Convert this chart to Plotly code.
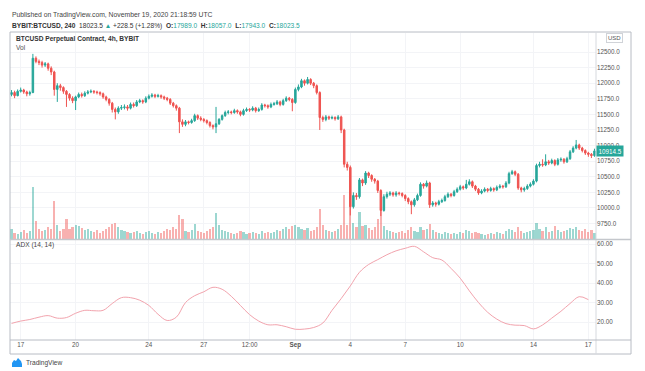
import plotly.graph_objects as go
import pandas as pd

W, H = 645, 371

# ---------------- data (4h candles, BYBIT BTCUSD) ----------------
start = "2020-08-16 12:00"
open_first = 11820
close = [
    11850, 11800, 11870, 11890, 11860, 11830, 11850, 12400, 12350, 12330,
    12290, 12310, 12240, 12180, 11900, 11960, 11930, 11870, 11820, 11760,
    11720, 11780, 11820, 11800, 11840, 11860, 11870, 11860, 11850, 11830,
    11780, 11740, 11680, 11580, 11540, 11600, 11610, 11620, 11600, 11660,
    11640, 11700, 11720, 11700, 11760, 11790, 11810, 11790, 11800, 11780,
    11760, 11740, 11680, 11640, 11600, 11380, 11340, 11380, 11370, 11400,
    11480, 11440, 11420, 11400, 11370, 11320, 11300, 11350, 11420, 11480,
    11530, 11540, 11530, 11560, 11540, 11500, 11560, 11580, 11570, 11600,
    11560, 11580, 11650, 11640, 11620, 11660, 11670, 11700, 11660, 11720,
    11760, 11740, 11690, 11900, 11940, 12040, 12000, 12060, 12000, 11960,
    11850, 11450, 11420, 11460, 11440, 11450, 11430, 11460, 11250, 10700,
    10650, 10020, 10200, 10180, 10450, 10400, 10560, 10520, 10460, 10430,
    10280, 9960, 10180, 10220, 10240, 10210, 10240, 10230, 10200, 10150,
    10100, 10050, 10130, 10200, 10380, 10350, 10400, 10050, 10080, 10060,
    10100, 10120, 10180, 10220, 10200, 10260, 10300, 10340, 10320, 10380,
    10420, 10350, 10300, 10240, 10270, 10300, 10280, 10310, 10290, 10330,
    10350, 10340, 10400, 10550, 10580, 10540, 10320, 10290, 10310, 10350,
    10380, 10430, 10680, 10700, 10690, 10740, 10720, 10760, 10700, 10770,
    10780, 10740, 10790, 10900, 10960, 11010, 10960, 10920, 10880, 10860,
    10840, 10914.5,
]
high = [
    11890, 11880, 11900, 11930, 11910, 11880, 11880, 12470, 12430, 12380,
    12360, 12340, 12330, 12270, 12200, 12000, 11990, 11950, 11890, 11840,
    11790, 11800, 11850, 11850, 11870, 11890, 11900, 11890, 11880, 11870,
    11850, 11800, 11760, 11700, 11610, 11630, 11650, 11660, 11650, 11690,
    11690, 11730, 11750, 11740, 11790, 11820, 11840, 11830, 11830, 11820,
    11800, 11780, 11760, 11700, 11660, 11620, 11420, 11410, 11400, 11430,
    11510, 11500, 11470, 11440, 11420, 11390, 11340, 11620, 11440, 11500,
    11560, 11570, 11560, 11590, 11580, 11560, 11590, 11610, 11600, 11630,
    11620, 11610, 11680, 11670, 11660, 11690, 11700, 11730, 11720, 11750,
    11790, 11780, 11760, 11930, 11980, 12070, 12060, 12100, 12080, 12020,
    11980, 11870, 11480, 11490, 11480, 11480, 11470, 11490, 11480, 11270,
    10740, 10680, 10250, 10240, 10480, 10470, 10590, 10580, 10540, 10480,
    10450, 10300, 10220, 10260, 10270, 10260, 10270, 10260, 10250, 10220,
    10170, 10120, 10160, 10230, 10410, 10400, 10440, 10420, 10110, 10100,
    10130, 10150, 10210, 10250, 10240, 10290, 10330, 10370, 10360, 10450,
    10460, 10440, 10370, 10320, 10300, 10330, 10320, 10340, 10330, 10360,
    10380, 10370, 10430, 10580, 10610, 10600, 10560, 10340, 10340, 10380,
    10410, 10460, 10710, 10740, 10780, 10860, 10770, 10790, 10780, 10800,
    10810, 10800, 10820, 10930, 10990, 11090, 11030, 10980, 10940, 10900,
    10880, 10950,
]
low = [
    11790, 11760, 11790, 11850, 11830, 11790, 11800, 11840, 12320, 12290,
    12250, 12260, 12200, 12130, 11800, 11700, 11880, 11830, 11620, 11720,
    11680, 11570, 11760, 11770, 11780, 11820, 11840, 11830, 11820, 11800,
    11750, 11710, 11640, 11530, 11420, 11510, 11570, 11580, 11560, 11580,
    11610, 11620, 11680, 11670, 11680, 11740, 11770, 11760, 11770, 11750,
    11730, 11710, 11650, 11610, 11560, 11200, 11300, 11310, 11340, 11350,
    11380, 11410, 11390, 11370, 11340, 11290, 11260, 11200, 11330, 11400,
    11460, 11500, 11500, 11510, 11510, 11470, 11480, 11540, 11540, 11550,
    11530, 11540, 11560, 11610, 11590, 11600, 11640, 11650, 11630, 11640,
    11700, 11710, 11550, 11670, 11870, 11920, 11960, 11980, 11970, 11920,
    11820, 11250, 11380, 11390, 11410, 11420, 11400, 11410, 11200, 10650,
    10600, 9880, 9990, 10130, 10150, 10350, 10370, 10480, 10420, 10390,
    10240, 9870, 9940, 10150, 10190, 10180, 10180, 10200, 10170, 10110,
    10060, 9900, 10020, 10110, 10180, 10310, 10330, 10000, 10020, 10020,
    10040, 10080, 10100, 10160, 10170, 10180, 10240, 10280, 10290, 10300,
    10360, 10320, 10270, 10210, 10220, 10250, 10250, 10260, 10260, 10270,
    10310, 10310, 10320, 10380, 10530, 10510, 10290, 10250, 10260, 10290,
    10330, 10360, 10410, 10650, 10660, 10670, 10690, 10700, 10670, 10680,
    10740, 10710, 10720, 10770, 10880, 10940, 10930, 10890, 10850, 10820,
    10800, 10820,
]
volume = [
    10, 6, 5, 7, 9, 6, 8, 52, 18, 10,
    8, 9, 12, 10, 38, 14, 8, 10, 20, 10,
    12, 14, 13, 11, 9, 10, 8, 7, 9, 6,
    8, 10, 12, 15, 16, 12, 9, 8, 7, 6,
    7, 8, 6, 5, 7, 8, 6, 5, 7, 6,
    8, 10, 9, 12, 10, 24, 20, 8, 7, 9,
    15, 8, 7, 6, 8, 10, 12, 26, 14, 9,
    8, 7, 6, 5, 6, 8, 7, 5, 6, 7,
    6, 5, 8, 6, 7, 6, 7, 9, 8, 10,
    12, 10, 13, 14, 12, 10, 9, 11, 8, 9,
    12, 30, 14, 9, 8, 7, 8, 10, 14, 44,
    14, 42, 16, 12, 27, 13, 14, 11, 9, 12,
    20, 32, 13, 9, 8, 7, 6, 7, 8, 6,
    9, 12, 8, 7, 12, 9, 10, 15, 9, 7,
    6, 5, 7, 6, 5, 6, 5, 7, 6, 9,
    8, 6, 7, 6, 5, 4, 5, 6, 5, 7,
    6, 5, 8, 10, 9, 7, 12, 8, 6, 7,
    8, 9, 16, 10, 8, 12, 7, 8, 13, 9,
    7, 8, 9, 11, 10, 12, 9, 8, 10, 7,
    9, 6,
]
# ADX (14, 14), sampled every 12h
adx = [
    19.3, 20.5, 21.3, 22.5, 23.3, 22.0, 22.3, 24.5, 26.0, 25.8,
    26.0, 29.5, 32.5, 32.5, 31.2, 28.5, 24.0, 20.8, 22.5, 30.0,
    33.5, 35.5, 37.8, 36.8, 33.2, 28.5, 23.8, 20.5, 18.6, 18.6,
    17.6, 16.3, 16.4, 17.2, 19.5, 26.0, 32.0, 38.5, 45.5, 49.5,
    52.0, 54.5, 56.5, 57.8, 58.8, 56.0, 53.0, 51.8, 47.5, 42.5,
    36.0, 30.0, 25.0, 21.5, 19.2, 18.4, 18.2, 16.5, 18.5, 22.0,
    25.5, 29.5, 33.0, 31.5,
]
tick_dates = ["2020-08-17", "2020-08-20", "2020-08-24", "2020-08-27",
              "2020-08-29 12:00", "2020-09-01", "2020-09-04", "2020-09-07",
              "2020-09-10", "2020-09-14", "2020-09-17"]
tick_labels = ["17", "20", "24", "27", "12:00", "<b>Sep</b>", "4", "7",
               "10", "14", "17"]
price_ticks = [9750, 10000, 10250, 10500, 10750, 11000, 11250, 11500,
               11750, 12000, 12250, 12500]
adx_ticks = [20, 30, 40, 50, 60]
last_price = 10914.5

# ---------------- build ----------------
UP, DN = "#26a69a", "#ef5350"
UPV, DNV = "rgba(38,166,154,0.45)", "rgba(239,83,80,0.45)"

times = pd.date_range(start, periods=len(close), freq="4h")
opens = [open_first] + close[:-1]
vol_colors = [UPV if c >= o else DNV for o, c in zip(opens, close)]
adx_times = times[::3]

def px(x):
    return x / W

def py(y):
    return 1 - y / H

fig = go.Figure()
fig.add_trace(go.Bar(x=times, y=volume, marker_color=vol_colors,
                     marker_line_width=0, width=4 * 3600 * 1000 * 0.72,
                     xaxis="x", yaxis="y", hoverinfo="skip"))
fig.add_trace(go.Candlestick(x=times, open=opens, high=high, low=low, close=close,
                             increasing=dict(line=dict(color=UP, width=1), fillcolor=UP),
                             decreasing=dict(line=dict(color=DN, width=1), fillcolor=DN),
                             whiskerwidth=0, xaxis="x", yaxis="y2", hoverinfo="skip"))
fig.add_trace(go.Scatter(x=adx_times, y=adx, mode="lines",
                         line=dict(color="#f2a3ad", width=1, shape="spline"),
                         xaxis="x2", yaxis="y3", hoverinfo="skip"))

x0 = pd.Timestamp(start) - pd.Timedelta(hours=2)
x1 = pd.Timestamp(start) + pd.Timedelta(hours=766)
GRID = "#f3f4f7"
FONT = "Liberation Sans"
AX_FONT = dict(family=FONT, size=6.3, color="#555")

main_dom = [py(239), py(33)]
adx_dom = [py(340), py(240)]
xdom = [px(10), px(596)]

fig.update_layout(
    width=W, height=H, margin=dict(l=0, r=0, t=0, b=0),
    paper_bgcolor="white", plot_bgcolor="white", showlegend=False,
    bargap=0, font=dict(family=FONT),
    xaxis=dict(domain=xdom, anchor="y", range=[x0, x1], showticklabels=False,
               tickvals=tick_dates, showgrid=True, gridcolor=GRID, zeroline=False,
               rangeslider=dict(visible=False), showline=False, ticks=""),
    xaxis2=dict(domain=xdom, anchor="y3", matches="x", range=[x0, x1],
                tickvals=tick_dates, ticktext=tick_labels, tickfont=AX_FONT,
                showgrid=True, gridcolor=GRID, zeroline=False, ticks="",
                showline=False, tickangle=0),
    yaxis=dict(domain=main_dom, range=[0, 206], visible=False, fixedrange=True),
    yaxis2=dict(domain=main_dom, overlaying="y", side="right", anchor="x",
                range=[9502, 12805], tickvals=price_ticks, tickformat=".1f",
                tickfont=AX_FONT, showgrid=True, gridcolor=GRID, zeroline=False,
                ticks="", showline=False),
    yaxis3=dict(domain=adx_dom, side="right", anchor="x2", range=[10.8, 62.05],
                tickvals=adx_ticks, tickformat=".2f", tickfont=AX_FONT,
                showgrid=True, gridcolor=GRID, zeroline=False, ticks="",
                showline=False),
)

LINE = dict(color="#b8bcc4", width=1)
shapes = [
    dict(type="rect", xref="paper", yref="paper", x0=px(10), x1=px(631),
         y0=py(354), y1=py(32), line=LINE, fillcolor="rgba(0,0,0,0)"),
    dict(type="line", xref="paper", yref="paper", x0=px(596), x1=px(596),
         y0=py(354), y1=py(32), line=dict(color="#d6d9de", width=1)),
    dict(type="line", xref="paper", yref="paper", x0=px(10), x1=px(631),
         y0=py(239.5), y1=py(239.5), line=dict(color="#c4c7cc", width=1.5)),
    dict(type="line", xref="paper", yref="paper", x0=px(10), x1=px(631),
         y0=py(340), y1=py(340), line=LINE),
]
# small TradingView cloud mark
pts = [(12, 367), (12, 363), (14, 360), (16, 361), (18, 358), (21, 361),
       (22, 364), (22, 367)]
path = "M " + " L ".join(f"{px(a):.5f} {py(b):.5f}" for a, b in pts) + " Z"
shapes.append(dict(type="path", xref="paper", yref="paper", path=path,
                   fillcolor="#2196f3", line=dict(width=0)))
fig.update_layout(shapes=shapes)

G = "#26a69a"
SP = "&nbsp; "
header2 = ("<b>BYBIT:BTCUSD, 240</b>" + SP + "18023.5 <span style='color:%s'>▲</span> +228.5 (+1.28%%)" + SP +
           "<b>O:</b><span style='color:%s'>17989.0</span>" + SP +
           "<b>H:</b><span style='color:%s'>18057.0</span>" + SP +
           "<b>L:</b><span style='color:%s'>17943.0</span>" + SP +
           "<b>C:</b><span style='color:%s'>18023.5</span>") % (G, G, G, G, G)

def ann(x, y, text, size=7, color="#333", **kw):
    d = dict(x=px(x), y=py(y), xref="paper", yref="paper", text=text,
             showarrow=False, xanchor="left", yanchor="middle",
             font=dict(family=FONT, size=size, color=color))
    d.update(kw)
    return d

anns = [
    ann(10, 15, "Published on TradingView.com, November 19, 2020 21:18:59 UTC", 6.8, "#444"),
    ann(10, 25.5, header2, 6.6, "#333"),
    ann(14, 39, "<b>BTCUSD Perpetual Contract, 4h, BYBIT</b>", 6.6, "#333"),
    ann(14, 47.5, "Vol", 6.6, "#555"),
    ann(14, 245, "ADX (14, 14)", 6.6, "#444"),
    ann(24, 362.5, "TradingView", 6.6, "#444"),
    ann(606, 37.5, "USD", 6, "#555", bordercolor="#d0d3d8", borderwidth=1, borderpad=1),
    dict(x=px(596), y=last_price, xref="paper", yref="y2", text="10914.5",
         showarrow=False, xanchor="left", yanchor="middle", bgcolor=UP,
         borderpad=1.5, font=dict(family=FONT, size=6.3, color="white")),
]
fig.update_layout(annotations=anns)

fig.write_html("out.html", config={"displayModeBar": False},
               post_script="document.body.style.margin='0';document.body.style.overflow='hidden';")
